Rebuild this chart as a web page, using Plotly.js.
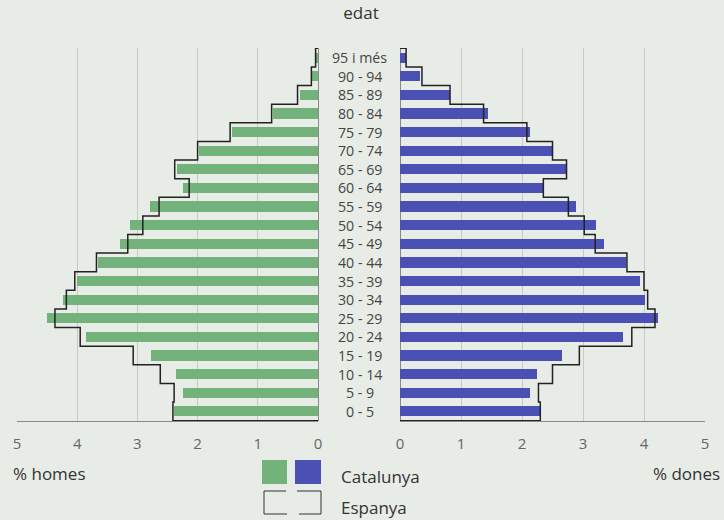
<!DOCTYPE html>
<html>
<head>
<meta charset="utf-8">
<script src="https://cdn.plot.ly/plotly-3.0.1.min.js"></script>
<style>html,body{margin:0;padding:0;background:#e8ece6;}#chart{width:724px;height:520px;}</style>
</head>
<body>
<div id="chart"></div>
<script>
// Age groups, bottom to top
const ageGroups = ['0 - 5','5 - 9','10 - 14','15 - 19','20 - 24','25 - 29','30 - 34','35 - 39','40 - 44','45 - 49','50 - 54','55 - 59','60 - 64','65 - 69','70 - 74','75 - 79','80 - 84','85 - 89','90 - 94','95 i més'];
// % homes (men)
const homesCatalunya = [2.39,2.25,2.36,2.78,3.85,4.51,4.23,4.00,3.65,3.29,3.12,2.79,2.24,2.35,1.98,1.43,0.74,0.30,0.10,0.04];
const homesEspanya   = [2.41,2.39,2.62,3.07,3.95,4.37,4.18,4.04,3.68,3.16,2.91,2.64,2.14,2.38,2.00,1.46,0.77,0.34,0.11,0.04];
// % dones (women)
const donesCatalunya = [2.30,2.13,2.24,2.65,3.66,4.23,4.02,3.93,3.70,3.35,3.22,2.89,2.35,2.73,2.51,2.13,1.44,0.82,0.33,0.10];
const donesEspanya   = [2.30,2.27,2.50,2.94,3.80,4.18,4.06,4.00,3.72,3.20,3.02,2.76,2.35,2.73,2.50,2.08,1.37,0.82,0.36,0.10];
const tickVals = [0,1,2,3,4,5];

const W = 724, H = 520;
const px = x => x / W;
const py = y => 1 - y / H;
const idx = ageGroups.map((_, i) => i);

function stepLine(vals) {
  const xs = [0], ys = [-0.5];
  vals.forEach((v, i) => { xs.push(v); ys.push(i - 0.5); });
  xs.push(0); ys.push(vals.length - 0.5);
  return {xs, ys};
}
const hs = stepLine(homesEspanya), ds = stepLine(donesEspanya);

const FONT = 'Open Sans, Noto Sans, sans-serif';
const GREEN = '#73b27b', BLUE = '#4b50b4', LINE = '#222';

const traces = [
  {type:'bar', orientation:'h', x:homesCatalunya, y:idx, xaxis:'x', yaxis:'y', width:0.55, marker:{color:GREEN}, hoverinfo:'x'},
  {type:'bar', orientation:'h', x:donesCatalunya, y:idx, xaxis:'x2', yaxis:'y', width:0.55, marker:{color:BLUE}, hoverinfo:'x'},
  {type:'scatter', mode:'lines', x:hs.xs, y:hs.ys, xaxis:'x', yaxis:'y', line:{shape:'vh', color:LINE, width:1.5}, cliponaxis:false, hoverinfo:'skip'},
  {type:'scatter', mode:'lines', x:ds.xs, y:ds.ys, xaxis:'x2', yaxis:'y', line:{shape:'vh', color:LINE, width:1.5}, cliponaxis:false, hoverinfo:'skip'}
];

const axisCommon = {
  tickvals: tickVals, ticktext: tickVals.map(String),
  showgrid:true, gridcolor:'#c7cac5', gridwidth:1,
  zeroline:true, zerolinecolor:'#8a8a8a', zerolinewidth:1,
  showline:true, linecolor:'#8a8a8a', linewidth:1,
  ticks:'', ticklabelstandoff:9, tickfont:{family:FONT, size:15, color:'#666'},
  fixedrange:true
};

const annotations = ageGroups.map((g, i) => ({
  text:g, xref:'paper', yref:'y', x:px(359.5), y:i, showarrow:false,
  xanchor:'center', yanchor:'middle', borderpad:0, font:{family:FONT, size:14.2, color:'#444'}
}));
annotations.push(
  {text:'% homes', xref:'paper', yref:'paper', x:px(11), y:py(473), xanchor:'left', yanchor:'middle', showarrow:false, font:{family:FONT, size:17, color:'#333'}},
  {text:'% dones', xref:'paper', yref:'paper', x:px(722), y:py(473), xanchor:'right', yanchor:'middle', showarrow:false, font:{family:FONT, size:17, color:'#333'}},
  {text:'Catalunya', xref:'paper', yref:'paper', x:px(339), y:py(476), xanchor:'left', yanchor:'middle', showarrow:false, font:{family:FONT, size:17, color:'#333'}},
  {text:'Espanya', xref:'paper', yref:'paper', x:px(339), y:py(507), xanchor:'left', yanchor:'middle', showarrow:false, font:{family:FONT, size:17, color:'#333'}}
);

const lineShape = (x0,y0,x1,y1) => ({type:'line', xref:'paper', yref:'paper', x0:px(x0), y0:py(y0), x1:px(x1), y1:py(y1), line:{color:'#333', width:1}});
const shapes = [
  {type:'rect', xref:'paper', yref:'paper', x0:px(262), x1:px(287), y0:py(460), y1:py(484), fillcolor:GREEN, line:{width:0}},
  {type:'rect', xref:'paper', yref:'paper', x0:px(295), x1:px(321), y0:py(460), y1:py(484), fillcolor:BLUE, line:{width:0}},
  lineShape(264,491,286,491), lineShape(264,491,264,514), lineShape(264,514,287,514),
  lineShape(297,491,321,491), lineShape(321,491,321,514), lineShape(299,514,321,514)
];

const layout = {
  width:W, height:H,
  margin:{l:0, r:0, t:0, b:0},
  paper_bgcolor:'#e8ece6', plot_bgcolor:'#e8ece6',
  showlegend:false, bargap:0,
  title:{text:'edat', x:px(361), y:py(13), xanchor:'center', yanchor:'middle', font:{family:FONT, size:17, color:'#333'}},
  xaxis:Object.assign({}, axisCommon, {domain:[px(17), px(318)], range:[5,0], anchor:'y'}),
  xaxis2:Object.assign({}, axisCommon, {domain:[px(400), px(705)], range:[0,5], anchor:'y'}),
  yaxis:{domain:[py(421), py(48)], range:[-0.52, 19.52], showticklabels:false, showgrid:false, zeroline:false, showline:false, fixedrange:true},
  annotations:annotations,
  shapes:shapes,
  font:{family:FONT}
};

Plotly.newPlot('chart', traces, layout, {displayModeBar:false, staticPlot:true});
</script>
</body>
</html>
